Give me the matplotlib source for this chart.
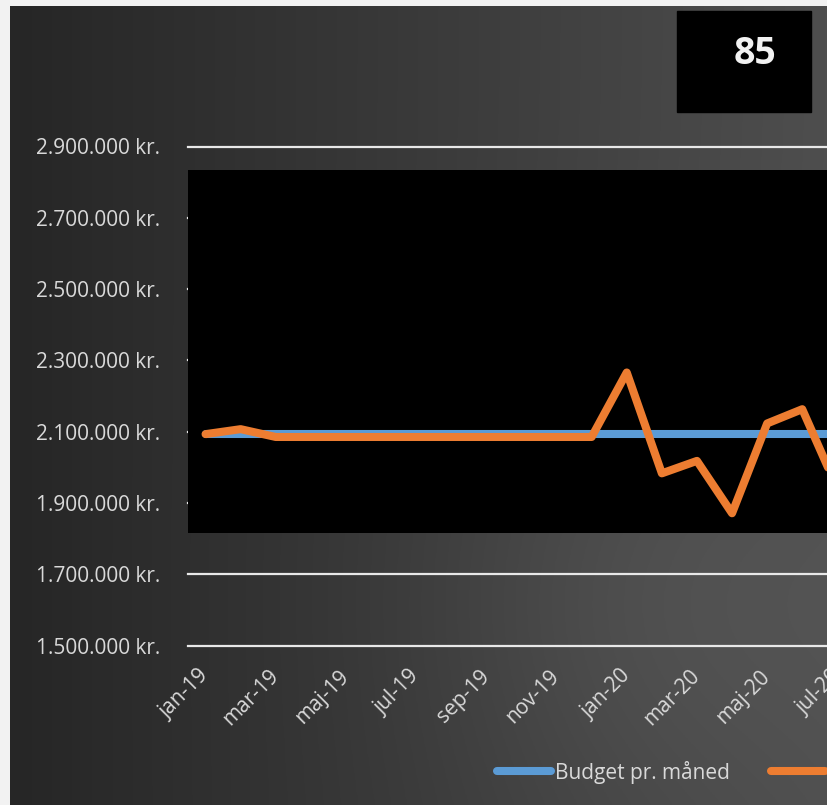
import numpy as np
import matplotlib
matplotlib.use("Agg")
import matplotlib.pyplot as plt
from matplotlib.patches import Rectangle
from matplotlib.ticker import FuncFormatter

plt.rcParams['font.family'] = ['Open Sans', 'DejaVu Sans']

# data
months = ['jan-19', 'feb-19', 'mar-19', 'apr-19', 'maj-19', 'jun-19', 'jul-19', 'aug-19',
          'sep-19', 'okt-19', 'nov-19', 'dec-19', 'jan-20', 'feb-20', 'mar-20', 'apr-20',
          'maj-20', 'jun-20', 'jul-20']
budget = [2093000, 2093000, 2093000, 2093000, 2093000, 2093000, 2093000, 2093000,
          2093000, 2093000, 2093000, 2093000, 2093000, 2093000, 2093000, 2093000,
          2093000, 2093000, 2093000]
actual = [2093000, 2107000, 2085000, 2085000, 2085000, 2085000, 2085000, 2085000,
          2085000, 2085000, 2085000, 2085000, 2266000, 1983000, 2018000, 1871000,
          2123000, 2163000, 1940000]
kpi = "85"

W, H = 827, 805
fig = plt.figure(figsize=(W / 100, H / 100), dpi=100)
fig.patch.set_facecolor('#f2f2f2')

# dark gradient panel
bg = fig.add_axes([10 / W, 0, (W - 10) / W, (H - 6) / H])
gx, gy = np.meshgrid(np.linspace(0, 1, 300), np.linspace(0, 1, 300))
g = 38 + 40 * gx + 10 * np.exp(-((gx - 0.78) ** 2 + (gy - 0.75) ** 2) / 0.08)
g = np.clip(g, 0, 255) / 255
bg.imshow(np.dstack([g, g, g]), aspect='auto', extent=[0, 1, 0, 1], origin='upper')
bg.set_axis_off()

# main chart, wider than the figure so the right side is cut off like the original
px = 35.1
ax = fig.add_axes([188 / W, (H - 645.5) / H, len(months) * px / W, 499 / H])
ax.set_facecolor('none')
ax.set_xlim(-0.5, len(months) - 0.5)
ax.set_ylim(1500000, 2900000)
ax.set_yticks(np.arange(1500000, 2900001, 200000))
ax.yaxis.set_major_formatter(FuncFormatter(lambda v, p: f"{int(v):,} kr.".replace(',', '.')))
ax.set_axisbelow(True)
ax.grid(axis='y', color='#e8e8e8', linewidth=1.6)
for gl in ax.get_ygridlines():
    gl.set_clip_on(False)
for s in ax.spines.values():
    s.set_visible(False)

ax.axhspan(1817000, 2835000, color='black', zorder=1, lw=0)

x = np.arange(len(months))
l1, = ax.plot(x, budget, color='#5b9bd5', lw=5.8, zorder=3, label='Budget pr. måned',
              solid_capstyle='round', solid_joinstyle='round')
l2, = ax.plot(x, actual, color='#ed7d31', lw=5.8, zorder=4, label='Realiseret pr. måned',
              solid_capstyle='round', solid_joinstyle='round')

ax.set_xticks(x[::2])
ax.set_xticklabels(months[::2])
ax.tick_params(axis='both', length=0, labelsize=15, labelcolor='#d9d9d9')
ax.tick_params(axis='y', pad=20)
ax.tick_params(axis='x', pad=20)
for t in ax.get_xticklabels():
    t.set_rotation(45)
    t.set_ha('right')
    t.set_va('center')
    t.set_rotation_mode('anchor')

leg = fig.legend(handles=[l1, l2], loc='center left', bbox_to_anchor=(497 / W, 1 - 772 / H),
                 ncol=2, frameon=False, fontsize=15, handlelength=2.6, handletextpad=0.2,
                 columnspacing=1.95, borderpad=0, borderaxespad=0)
for t in leg.get_texts():
    t.set_color('#d9d9d9')

# KPI box
fig.patches.append(Rectangle((677 / W, 1 - 112 / H), 134 / W, 101 / H,
                             transform=fig.transFigure, color='black', zorder=5))
fig.text(755 / W, 1 - 54 / H, kpi, color='#f2f2f2', fontsize=27, fontweight='bold',
         ha='center', va='center', zorder=6)

fig.savefig('out.png', dpi=100, facecolor=fig.get_facecolor())
